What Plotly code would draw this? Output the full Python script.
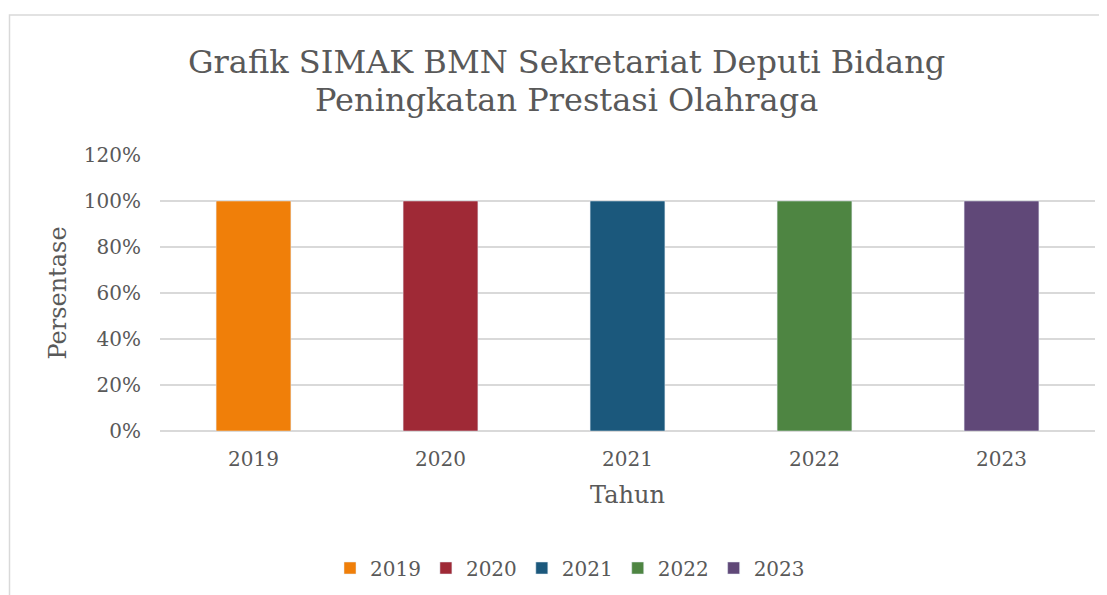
import plotly.graph_objects as go

years = ["2019", "2020", "2021", "2022", "2023"]
values = [1.0, 1.0, 1.0, 1.0, 1.0]
colors = ["#F07F09", "#9F2936", "#1B587C", "#4E8542", "#604878"]
y_ticks = [0, 0.2, 0.4, 0.6, 0.8, 1.0, 1.2]
y_ticklabels = ["0%", "20%", "40%", "60%", "80%", "100%", "120%"]
title_lines = ["Grafik SIMAK BMN Sekretariat Deputi Bidang", "Peningkatan Prestasi Olahraga"]

FONT = "'DejaVu Serif', Georgia, serif"
TXT = "#595959"

# page has an 8px body margin; figure fills the rest of the 1107x595 window
W, H = 1099, 587
ML, MR, MT, MB = 152, 12, 147, 164
pw = W - ML - MR
ph = H - MT - MB

fig = go.Figure()
for yr, v, c in zip(years, values, colors):
    fig.add_trace(go.Bar(x=[yr], y=[v], name=yr, marker_color=c, width=0.4))

# chart frame
fig.add_shape(type="rect", xref="paper", yref="paper",
              x0=(1.5 - ML) / pw, x1=(W + 20 - ML) / pw,
              y0=(H - 700 - MB) / ph, y1=(H - 7 - MB) / ph,
              line=dict(color="#d9d9d9", width=1.5), layer="below")

for i, line in enumerate(title_lines):
    fig.add_annotation(text=line, xref="paper", yref="paper",
                       x=(558 - ML) / pw, xanchor="center",
                       y=(H - MB - (54 + 38.5 * i)) / ph, yanchor="middle",
                       showarrow=False, font=dict(size=32, color=TXT, family=FONT))

fig.update_layout(
    width=W, height=H,
    margin=dict(l=ML, r=MR, t=MT, b=MB, autoexpand=False),
    paper_bgcolor="white", plot_bgcolor="white",
    barmode="overlay",
    font=dict(family=FONT, color=TXT, size=20),
    xaxis=dict(type="category", categoryorder="array", categoryarray=years,
               showgrid=False, showline=False, ticks="",
               tickfont=dict(size=20), ticklabelstandoff=14,
               title=dict(text="Tahun", font=dict(size=24), standoff=16)),
    yaxis=dict(range=[0, 1.2], tickvals=y_ticks, ticktext=y_ticklabels,
               showgrid=True, gridcolor="#d9d9d9", gridwidth=1.5,
               zeroline=True, zerolinecolor="#d9d9d9", zerolinewidth=1.5,
               showline=False, ticks="", tickfont=dict(size=20),
               ticklabelstandoff=18,
               title=dict(text="Persentase", font=dict(size=24), standoff=10)),
    legend=dict(orientation="h", x=(570 - 8 - ML) / pw, xanchor="center",
                y=-(560 - (H - MB)) / ph, yanchor="middle",
                font=dict(size=20), itemwidth=30, traceorder="normal"),
)

fig.write_html("out.html")
